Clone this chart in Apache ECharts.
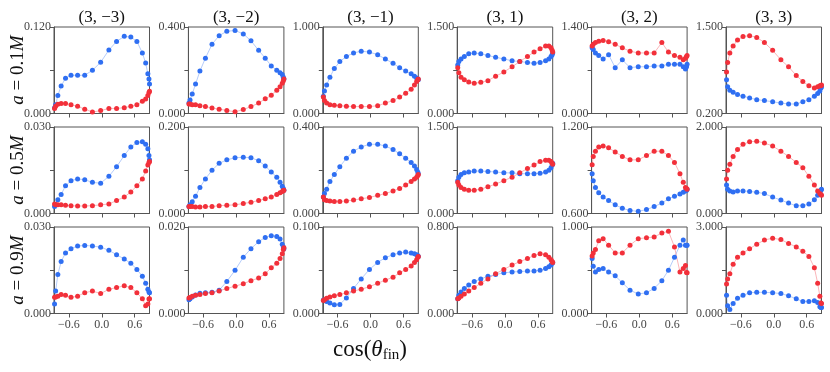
<!DOCTYPE html>
<html>
<head>
<meta charset="utf-8">
<script src="https://cdn.jsdelivr.net/npm/echarts@6/dist/echarts.min.js"></script>
<style>
  html, body { margin: 0; padding: 0; background: #fff; }
  #chart { width: 830px; height: 372px; }
</style>
</head>
<body>
<div id="chart"></div>
<script>
// cos(theta_fin) sample positions, shared by all panels
const cosTheta = [-0.86, -0.84, -0.80, -0.74, -0.66, -0.56, -0.44, -0.31, -0.17, -0.02,
                  0.13, 0.27, 0.41, 0.53, 0.64, 0.74, 0.80, 0.84, 0.86, 0.87]

const modeTitles = ['(3, \u22123)', '(3, \u22122)', '(3, \u22121)', '(3, 1)', '(3, 2)', '(3, 3)']
const spinLabels = ['0.1', '0.5', '0.9']

// y-axis limits per row (6 panels each)
const yMin = [
  [0, 0, 0, 0, 0, 0.2],
  [0, 0, 0, 0, 0.6, 0],
  [0, 0, 0, 0, 0, 0]
]
const yMax = [
  [0.12, 0.4, 1.0, 1.5, 1.4, 1.5],
  [0.03, 0.2, 0.4, 1.5, 1.2, 2.0],
  [0.03, 0.02, 0.1, 0.8, 1.0, 3.0]
]

// a = 0.1M
const blueA1 = [
  [0.008, 0.012, 0.025, 0.038, 0.049, 0.053, 0.053, 0.053, 0.060, 0.071, 0.088, 0.100, 0.107, 0.106, 0.100, 0.084, 0.070, 0.055, 0.048, 0.041],
  [0.048, 0.062, 0.090, 0.136, 0.196, 0.256, 0.320, 0.360, 0.380, 0.384, 0.368, 0.336, 0.292, 0.256, 0.220, 0.200, 0.188, 0.180, 0.168, 0.160],
  [0.20, 0.26, 0.33, 0.42, 0.52, 0.60, 0.66, 0.70, 0.72, 0.71, 0.68, 0.63, 0.58, 0.53, 0.49, 0.46, 0.43, 0.41, 0.40, 0.39],
  [0.84, 0.90, 0.945, 0.99, 1.035, 1.05, 1.035, 1.005, 0.975, 0.945, 0.915, 0.90, 0.885, 0.87, 0.885, 0.915, 0.945, 0.99, 1.02, 1.05],
  [1.064, 1.036, 0.98, 0.938, 0.882, 0.952, 0.742, 0.868, 0.742, 0.756, 0.756, 0.77, 0.77, 0.798, 0.798, 0.798, 0.756, 0.721, 0.756, 0.798],
  [0.707, 0.603, 0.551, 0.519, 0.486, 0.46, 0.434, 0.408, 0.395, 0.376, 0.356, 0.343, 0.343, 0.376, 0.408, 0.46, 0.499, 0.538, 0.584, 0.603]
]
const redA1 = [
  [0.007, 0.010, 0.013, 0.014, 0.014, 0.012, 0.010, 0.006, 0.002, 0.004, 0.007, 0.007, 0.008, 0.010, 0.012, 0.017, 0.020, 0.025, 0.029, 0.031],
  [0.044, 0.044, 0.040, 0.040, 0.036, 0.032, 0.026, 0.020, 0.014, 0.008, 0.018, 0.032, 0.048, 0.068, 0.084, 0.108, 0.124, 0.140, 0.152, 0.160],
  [0.19, 0.15, 0.12, 0.10, 0.095, 0.09, 0.085, 0.08, 0.08, 0.08, 0.09, 0.12, 0.15, 0.19, 0.235, 0.28, 0.33, 0.37, 0.39, 0.40],
  [0.795, 0.705, 0.63, 0.585, 0.548, 0.525, 0.54, 0.57, 0.645, 0.72, 0.81, 0.90, 0.99, 1.065, 1.125, 1.17, 1.17, 1.14, 1.095, 1.065],
  [1.092, 1.12, 1.148, 1.169, 1.183, 1.162, 1.12, 1.064, 1.008, 0.98, 0.98, 0.98, 1.148, 0.994, 0.938, 0.91, 0.868, 0.896, 0.924, 0.938],
  [0.824, 0.967, 1.11, 1.214, 1.305, 1.357, 1.37, 1.344, 1.266, 1.149, 1.006, 0.902, 0.772, 0.681, 0.616, 0.584, 0.603, 0.616, 0.616, 0.629]
]

// a = 0.5M
const blueA5 = [
  [0.0024, 0.003, 0.0048, 0.0066, 0.0096, 0.0114, 0.012, 0.0117, 0.0108, 0.0105, 0.0129, 0.0162, 0.0201, 0.0231, 0.0246, 0.0249, 0.024, 0.0225, 0.0201, 0.0186],
  [0.016, 0.02, 0.027, 0.04, 0.06, 0.08, 0.10, 0.116, 0.124, 0.129, 0.13, 0.129, 0.122, 0.11, 0.096, 0.084, 0.072, 0.063, 0.058, 0.054],
  [0.076, 0.092, 0.112, 0.148, 0.18, 0.216, 0.256, 0.288, 0.308, 0.32, 0.32, 0.312, 0.296, 0.276, 0.256, 0.236, 0.22, 0.204, 0.192, 0.184],
  [0.57, 0.63, 0.675, 0.705, 0.72, 0.735, 0.735, 0.728, 0.72, 0.705, 0.705, 0.69, 0.69, 0.69, 0.698, 0.72, 0.75, 0.795, 0.84, 0.87],
  [0.876, 0.828, 0.78, 0.744, 0.714, 0.69, 0.66, 0.636, 0.621, 0.615, 0.627, 0.648, 0.672, 0.702, 0.72, 0.735, 0.747, 0.756, 0.762, 0.768],
  [0.66, 0.56, 0.52, 0.50, 0.52, 0.52, 0.51, 0.49, 0.46, 0.38, 0.31, 0.24, 0.18, 0.18, 0.22, 0.32, 0.42, 0.50, 0.54, 0.56]
]
const redA5 = [
  [0.0033, 0.003, 0.003, 0.003, 0.0029, 0.0027, 0.0026, 0.0026, 0.0027, 0.003, 0.0033, 0.0045, 0.0057, 0.0075, 0.0096, 0.012, 0.0147, 0.0168, 0.0177, 0.018],
  [0.016, 0.016, 0.016, 0.015, 0.015, 0.016, 0.016, 0.018, 0.019, 0.02, 0.023, 0.026, 0.03, 0.034, 0.038, 0.044, 0.048, 0.051, 0.053, 0.054],
  [0.076, 0.064, 0.06, 0.058, 0.056, 0.056, 0.058, 0.062, 0.068, 0.074, 0.084, 0.092, 0.104, 0.116, 0.132, 0.148, 0.16, 0.168, 0.176, 0.18],
  [0.54, 0.495, 0.45, 0.42, 0.405, 0.405, 0.42, 0.465, 0.51, 0.57, 0.63, 0.705, 0.78, 0.84, 0.90, 0.923, 0.923, 0.90, 0.87, 0.855],
  [0.939, 0.996, 1.032, 1.062, 1.068, 1.056, 1.026, 0.996, 0.972, 0.972, 1.002, 1.032, 1.032, 1.002, 0.954, 0.876, 0.816, 0.78, 0.774, 0.768],
  [0.80, 1.00, 1.14, 1.32, 1.48, 1.60, 1.66, 1.67, 1.63, 1.56, 1.44, 1.32, 1.18, 1.06, 0.86, 0.66, 0.52, 0.46, 0.44, 0.42]
]

// a = 0.9M
const blueA9 = [
  [0.0033, 0.0078, 0.0135, 0.018, 0.021, 0.0225, 0.0234, 0.0236, 0.0234, 0.023, 0.0219, 0.0204, 0.0189, 0.0174, 0.0153, 0.0129, 0.0105, 0.0084, 0.0075, 0.0072],
  [0.0032, 0.0034, 0.0038, 0.0043, 0.0047, 0.0048, 0.0049, 0.0054, 0.0074, 0.01, 0.013, 0.015, 0.0166, 0.0176, 0.018, 0.0178, 0.0172, 0.016, 0.0154, 0.015],
  [0.0155, 0.015, 0.014, 0.012, 0.010, 0.0105, 0.018, 0.029, 0.040, 0.051, 0.059, 0.0645, 0.068, 0.070, 0.071, 0.070, 0.069, 0.068, 0.067, 0.066],
  [0.136, 0.168, 0.20, 0.232, 0.264, 0.296, 0.32, 0.344, 0.36, 0.376, 0.384, 0.388, 0.392, 0.392, 0.40, 0.416, 0.432, 0.448, 0.464, 0.472],
  [0.635, 0.545, 0.48, 0.51, 0.52, 0.48, 0.435, 0.355, 0.27, 0.225, 0.24, 0.29, 0.38, 0.50, 0.65, 0.79, 0.85, 0.79, 0.79, 0.79],
  [0.63, 0.27, 0.138, 0.345, 0.525, 0.63, 0.72, 0.735, 0.735, 0.72, 0.69, 0.615, 0.51, 0.42, 0.42, 0.438, 0.381, 0.231, 0.21, 0.21]
]
const redA9 = [
  [0.0056, 0.0057, 0.006, 0.0066, 0.0063, 0.0056, 0.006, 0.0072, 0.0078, 0.0069, 0.0084, 0.009, 0.0096, 0.009, 0.0072, 0.0051, 0.0027, 0.0033, 0.005, 0.0051],
  [0.0036, 0.0037, 0.004, 0.0042, 0.0044, 0.0046, 0.0048, 0.0052, 0.0058, 0.0063, 0.0069, 0.0076, 0.0082, 0.0092, 0.0106, 0.0116, 0.0127, 0.0138, 0.0148, 0.0152],
  [0.015, 0.016, 0.0175, 0.019, 0.0205, 0.022, 0.024, 0.026, 0.028, 0.031, 0.035, 0.0385, 0.042, 0.047, 0.051, 0.055, 0.059, 0.062, 0.065, 0.066],
  [0.136, 0.144, 0.16, 0.18, 0.208, 0.24, 0.28, 0.32, 0.368, 0.408, 0.448, 0.48, 0.508, 0.536, 0.552, 0.544, 0.52, 0.496, 0.48, 0.472],
  [0.665, 0.70, 0.74, 0.84, 0.865, 0.79, 0.70, 0.70, 0.79, 0.865, 0.875, 0.885, 0.93, 0.95, 0.77, 0.48, 0.52, 0.555, 0.475, 0.47],
  [1.02, 1.20, 1.38, 1.71, 1.95, 2.10, 2.25, 2.40, 2.55, 2.61, 2.565, 2.43, 2.31, 2.16, 1.98, 1.59, 1.05, 0.60, 0.36, 0.345]
]

const blueRows = [blueA1, blueA5, blueA9]
const redRows = [redA1, redA5, redA9]

const BLUE = '#2f6ff2'
const RED = '#f2303a'
const FONT = '"Liberation Serif", "DejaVu Serif", serif'

const chart = echarts.init(document.getElementById('chart'))

const grids = []
const xAxes = []
const yAxes = []
const series = []
const graphics = []

for (let r = 0; r < 3; r++) {
  for (let c = 0; c < 6; c++) {
    const idx = r * 6 + c
    const lo = yMin[r][c]
    const hi = yMax[r][c]
    grids.push({
      left: 54 + c * 134.4,
      top: 27 + r * 100,
      width: 95.5,
      height: 86.5,
      show: true,
      borderColor: '#555',
      borderWidth: 1
    })
    xAxes.push({
      gridIndex: idx,
      type: 'value',
      position: 'bottom',
      min: -0.87,
      max: 0.87,
      axisLine: { show: true, onZero: false, lineStyle: { color: '#555' } },
      splitLine: { show: false },
      axisTick: {
        show: true,
        length: 4,
        customValues: [-0.6, 0, 0.6],
        lineStyle: { color: '#555' }
      },
      axisLabel: {
        show: r === 2,
        customValues: [-0.6, 0, 0.6],
        fontFamily: FONT,
        fontSize: 12,
        color: '#444',
        margin: 5,
        formatter: v => (v < -1e-9 ? '\u2212' : '') + Math.abs(v).toFixed(1)
      }
    })
    yAxes.push({
      gridIndex: idx,
      type: 'value',
      position: 'left',
      min: lo,
      max: hi,
      axisLine: { show: true, onZero: false, lineStyle: { color: '#555' } },
      splitLine: { show: false },
      axisTick: {
        show: true,
        length: 4,
        customValues: [lo, (lo + hi) / 2, hi],
        lineStyle: { color: '#555' }
      },
      axisLabel: {
        customValues: [lo, hi],
        fontFamily: FONT,
        fontSize: 12,
        color: '#444',
        margin: 3,
        formatter: v => v.toFixed(3)
      }
    })
    const pairs = [[blueRows[r][c], BLUE], [redRows[r][c], RED]]
    pairs.forEach(([vals, col]) => {
      series.push({
        type: 'line',
        xAxisIndex: idx,
        yAxisIndex: idx,
        data: cosTheta.map((x, i) => [x, vals[i]]),
        symbol: 'circle',
        symbolSize: 5,
        itemStyle: { color: col },
        lineStyle: { color: col, width: 0.8, opacity: 0.45 },
        silent: true,
        animation: false
      })
    })
  }
}

// column titles
modeTitles.forEach((t, c) => {
  graphics.push({
    type: 'text',
    x: 54 + c * 134.4 + 47.75,
    y: 18,
    style: {
      text: t,
      font: '17px ' + FONT,
      fill: '#111',
      align: 'center',
      verticalAlign: 'middle'
    }
  })
})

// row labels (rotated)
spinLabels.forEach((s, r) => {
  graphics.push({
    type: 'text',
    x: 18,
    y: 27 + r * 100 + 43,
    rotation: Math.PI / 2,
    style: {
      text: '{i|a} = ' + s + '{i|M}',
      fill: '#111',
      align: 'center',
      verticalAlign: 'middle',
      font: '19px ' + FONT,
      rich: {
        i: { fontStyle: 'italic', fontSize: 19, fontFamily: FONT }
      }
    }
  })
})

// x axis label
graphics.push({
  type: 'text',
  x: 370,
  y: 350,
  style: {
    text: 'cos({t|\u03b8}{s|fin})',
    fill: '#111',
    align: 'center',
    verticalAlign: 'middle',
    font: '23px ' + FONT,
    rich: {
      t: { fontStyle: 'italic', fontSize: 23, fontFamily: FONT },
      s: { fontSize: 15, fontFamily: FONT, padding: [10, 0, 0, 0] }
    }
  }
})

chart.setOption({
  animation: false,
  grid: grids,
  xAxis: xAxes,
  yAxis: yAxes,
  series: series,
  graphic: graphics
})
</script>
</body>
</html>
